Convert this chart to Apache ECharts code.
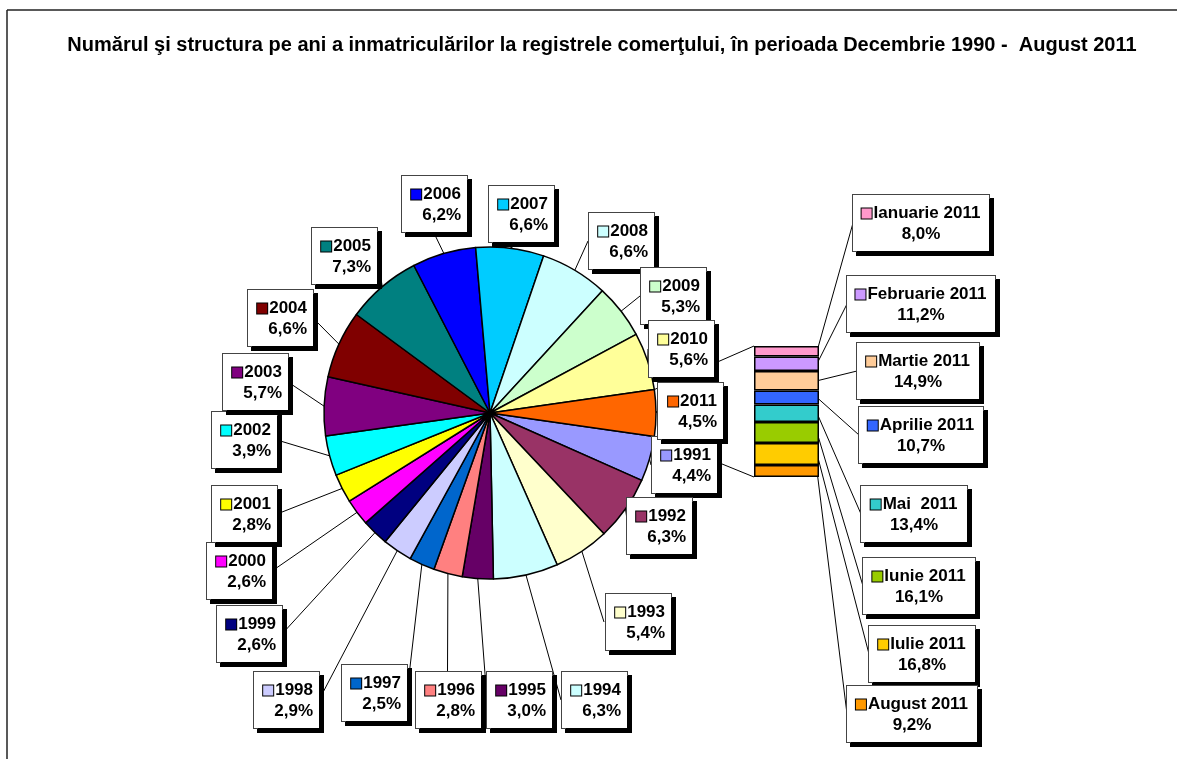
<!DOCTYPE html>
<html><head><meta charset="utf-8">
<script src="https://cdn.jsdelivr.net/npm/echarts@6/dist/echarts.min.js"></script>
<style>html,body{margin:0;padding:0;background:#fff}#c{width:1177px;height:759px}</style>
</head><body><div id="c"></div>
<script>
// ---- data ----
const years = ['1991','1992','1993','1994','1995','1996','1997','1998','1999','2000','2001','2002','2003','2004','2005','2006','2007','2008','2009','2010','2011'];
const yearShares = [4.4,6.3,5.4,6.3,3.0,2.8,2.5,2.9,2.6,2.6,2.8,3.9,5.7,6.6,7.3,6.2,6.6,6.6,5.3,5.6,4.5];
const months = ['Ianuarie 2011','Februarie 2011','Martie 2011','Aprilie 2011','Mai  2011','Iunie 2011','Iulie 2011','August 2011'];
const monthShares = [8.0,11.2,14.9,10.7,13.4,16.1,16.8,9.2];
const titleText = 'Numărul şi structura pe ani a inmatriculărilor la registrele comerţului, în perioada Decembrie 1990 -  August 2011';

// ---- styles ----
const yearColors = ['#9999FF','#993366','#FFFFCC','#CCFFFF','#660066','#FF8080','#0066CC','#CCCCFF','#000080','#FF00FF','#FFFF00','#00FFFF','#800080','#800000','#008080','#0000FF','#00CCFF','#CCFFFF','#CCFFCC','#FFFF99','#FF6600'];
const monthColors = ['#FF99CC','#CC99FF','#FFCC99','#3366FF','#33CCCC','#99CC00','#FFCC00','#FF9900'];
const FONT = '"Liberation Sans", Arial, sans-serif';

// ---- layout (label boxes: left, top, width) ----
const pieCenter = [490, 413], pieRadius = 166;
const pieLabelBoxes = [[651,437,66],[628,498,64],[604,594,67],[561,672,66],[487,672,65],[414,672,67],[343,665,64],[253,672,66],[216,606,66],[208,543,64],[213,486,64],[213,412,64],[223,354,65],[248,290,65],[313,228,64],[400,176,67],[489,186,65],[588,213,66],[640,268,66],[648,321,66],[657,383,66]];
const PIE_BOX_H = 56;
const barGrid = {left:754, top:346, width:65, height:131};
const barLabelBoxes = [[853,195,136],[847,276,148],[857,343,122],[859,407,124],[861,486,106],[863,558,112],[869,626,106],[847,686,130]];
const BAR_BOX_H = 56;

const fmt = v => v.toFixed(1).replace('.', ',') + '%';
const sumYears = yearShares.reduce((a,b)=>a+b,0);
const sumMonths = monthShares.reduce((a,b)=>a+b,0);
const halfDeg = yearShares[yearShares.length-1] / sumYears * 180;

const pieRich = {
  y: {fontSize:17, fontWeight:'bold', fontFamily:FONT, color:'#000', lineHeight:21, padding:[0,0,0,2]},
  p: {fontSize:17, fontWeight:'bold', fontFamily:FONT, color:'#000', lineHeight:21}
};
yearColors.forEach((c,i)=>{ pieRich['c'+i] = {width:10, height:10, backgroundColor:c, borderColor:'#000', borderWidth:1}; });

const labelBoxStyle = {
  backgroundColor:'#fff', borderColor:'#444', borderWidth:1,
  shadowColor:'#000', shadowOffsetX:4, shadowOffsetY:4, shadowBlur:0
};

function attach(a, x0, y0, w, h) {
  let ex, ey;
  if (a[0] < x0) { ex = x0; ey = y0 + h/2; }
  else if (a[0] > x0 + w) { ex = x0 + w; ey = y0 + h/2; }
  else { ex = x0 + w/2; ey = a[1] < y0 ? y0 : y0 + h; }
  return [ex, ey];
}

const pieSeries = {
  type:'pie', center:pieCenter, radius:pieRadius,
  startAngle:-halfDeg, clockwise:true, avoidLabelOverlap:false,
  animation:false, silent:true, z:3,
  itemStyle:{borderColor:'#000', borderWidth:1.5},
  emphasis:{disabled:true},
  data: years.map((y,i)=>({name:y, value:yearShares[i], itemStyle:{color:yearColors[i]}})),
  label:Object.assign({
    show:true, position:'outside', color:'#000',
    width:53, padding:[8,6,6,6], lineHeight:21, align:'right',
    formatter: p => '{c'+p.dataIndex+'|}{y|'+p.name+'}\n{p|'+fmt(p.value)+'}',
    rich: pieRich
  }, labelBoxStyle),
  labelLine:{show:true, length:10, length2:10, lineStyle:{color:'#000', width:1}},
  labelLayout: function (p) {
    const b = pieLabelBoxes[p.dataIndex];
    const res = {x:b[0]+b[2], y:b[1], align:'right', verticalAlign:'top', hideOverlap:false, moveOverlap:null};
    if (p.labelLinePoints && p.labelLinePoints.length) {
      const a = p.labelLinePoints[0];
      const e = attach(a, b[0], b[1], b[2], PIE_BOX_H);
      res.labelLinePoints = [a, e, e];
    }
    return res;
  }
};

const barRich = {
  n: {fontSize:17, fontWeight:'bold', fontFamily:FONT, color:'#000', lineHeight:21, padding:[0,0,0,2]},
  p: {fontSize:17, fontWeight:'bold', fontFamily:FONT, color:'#000', lineHeight:21}
};
monthColors.forEach((c,i)=>{ barRich['m'+i] = {width:10, height:10, backgroundColor:c, borderColor:'#000', borderWidth:1}; });

const barSeries = months.map((m,i)=>({
  type:'bar', name:m, stack:'luni', xAxisIndex:0, yAxisIndex:0,
  data:[monthShares[i]], barWidth:'100%', animation:false, silent:true, z:3,
  itemStyle:{color:monthColors[i], borderColor:'#000', borderWidth:1.5},
  emphasis:{disabled:true},
  label:Object.assign({
    show:true, position:'right', color:'#000',
    width:barLabelBoxes[i][2]-12, padding:[8,6,6,6], lineHeight:21, align:'center',
    formatter: p => '{m'+i+'|}{n|'+p.seriesName+'}\n{p|'+fmt(p.value)+'}',
    rich: barRich
  }, labelBoxStyle),
  labelLine:{show:false},
  labelLayout: function () {
    const b = barLabelBoxes[i];
    return {x:b[0]+b[2]/2, y:b[1], align:'center', verticalAlign:'top', hideOverlap:false, moveOverlap:null};
  }
}));

const chart = echarts.init(document.getElementById('c'), null, {renderer:'canvas'});
chart.setOption({
  backgroundColor:'#fff',
  animation:false,
  title:{text:titleText, left:602, top:35, textAlign:'center', padding:0,
    textStyle:{fontFamily:FONT, fontSize:20, fontWeight:'bold', color:'#000'}},
  grid:[Object.assign({containLabel:false}, barGrid)],
  xAxis:[{type:'category', data:['2011'], show:false, gridIndex:0}],
  yAxis:[{type:'value', show:false, inverse:true, min:0, max:sumMonths, gridIndex:0}],
  series:[pieSeries].concat(barSeries)
});

// connector lines from the split slice to the bar, and bar leader lines
const hr = halfDeg * Math.PI / 180;
const edgeTop = [pieCenter[0] + pieRadius*Math.cos(hr), pieCenter[1] - pieRadius*Math.sin(hr)];
const edgeBot = [pieCenter[0] + pieRadius*Math.cos(hr), pieCenter[1] + pieRadius*Math.sin(hr)];
const barTopPx = chart.convertToPixel({yAxisIndex:0}, 0);
const barBotPx = chart.convertToPixel({yAxisIndex:0}, sumMonths);
const barRightPx = chart.convertToPixel({xAxisIndex:0}, '2011') + barGrid.width/2;
const barLeftPx = barRightPx - barGrid.width;

const graphics = [
  {type:'line', z:0, shape:{x1:7, y1:10, x2:1177, y2:10}, style:{stroke:'#222', lineWidth:1.5}},
  {type:'line', z:0, shape:{x1:7, y1:10, x2:7, y2:759}, style:{stroke:'#222', lineWidth:1.5}},
  {type:'line', z:1, shape:{x1:edgeTop[0], y1:edgeTop[1], x2:barLeftPx, y2:barTopPx}, style:{stroke:'#000', lineWidth:1}},
  {type:'line', z:1, shape:{x1:edgeBot[0], y1:edgeBot[1], x2:barLeftPx, y2:barBotPx}, style:{stroke:'#000', lineWidth:1}}
];
let cum = 0;
monthShares.forEach((v,i)=>{
  const yMid = chart.convertToPixel({yAxisIndex:0}, cum + v/2);
  cum += v;
  const b = barLabelBoxes[i];
  graphics.push({type:'line', z:1, shape:{x1:barRightPx-2, y1:yMid, x2:b[0], y2:b[1]+BAR_BOX_H/2}, style:{stroke:'#000', lineWidth:1}});
});
chart.setOption({graphic: graphics});
</script></body></html>
